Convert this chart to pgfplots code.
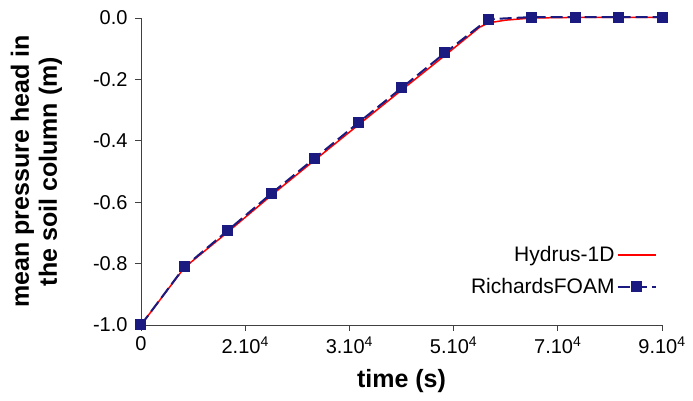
\documentclass[border=0pt]{standalone}
\usepackage{fontspec}
\setmainfont{Liberation Sans}
\usepackage{pgfplots}
\pgfplotsset{compat=1.18}
\definecolor{navy}{RGB}{26,26,128}
\begin{document}
\begin{tikzpicture}
\begin{axis}[
  name=ax,
  scale only axis,
  width=521pt, height=307pt,
  xmin=0, xmax=90000, ymin=-1, ymax=0,
  scaled x ticks=false,
  axis lines=left,
  axis line style={-, line width=0.9pt, gray!50!black},
  tick style={line width=0.9pt, gray!50!black},
  tick align=outside,
  major tick length=6pt,
  xtick={0,18000,36000,54000,72000,90000},
  xticklabels={0,2.10\textsuperscript{4},3.10\textsuperscript{4},5.10\textsuperscript{4},7.10\textsuperscript{4},9.10\textsuperscript{4}},
  ytick={-1,-0.8,-0.6,-0.4,-0.2,0},
  yticklabels={-1.0,-0.8,-0.6,-0.4,-0.2,0.0},
  tick label style={font=\fontsize{20}{24}\selectfont},
  xticklabel style={yshift=-2pt},
  yticklabel style={xshift=-4pt},
  xlabel={\textbf{time (s)}},
  ylabel={\textbf{mean pressure head in}\\\textbf{the soil column (m)}},
  xlabel style={font=\fontsize{25}{28}\selectfont, yshift=-9pt},
  ylabel style={font=\fontsize{25}{28}\selectfont, align=center, yshift=24pt},
  clip=false,
  legend plot pos=right,
  legend cell align=right,
  legend style={draw=none, fill=none, at={(0.99,0.09)}, anchor=south east, inner sep=0pt, font=\fontsize{21}{25}\selectfont, row sep=11pt},
  legend image code/.code={\draw[mark repeat=2,mark phase=2] plot coordinates {(0pt,0pt)(19pt,0pt)(38pt,0pt)};},
]
\addplot[color=red, line width=1.5pt, no marks] coordinates {
(0,-1.0)(7500,-0.813)(15000,-0.697)(22500,-0.578)(30000,-0.463)(37500,-0.349)(45000,-0.235)(52500,-0.122)(58500,-0.030)(60000,-0.016)(63000,-0.007)(67500,0.0)(75000,0.002)(82500,0.002)(90000,0.002)
};
\addlegendentry{Hydrus-1D}
\addplot[color=navy, line width=2pt, dash pattern=on 12pt off 5pt, mark=square*, mark size=4.5pt, mark options={solid}] coordinates {
(0,-1.0)(7500,-0.811)(15000,-0.692)(22500,-0.572)(30000,-0.457)(37500,-0.342)(45000,-0.228)(52500,-0.114)(60000,-0.004)(67500,0.003)(75000,0.003)(82500,0.003)(90000,0.003)
};
\addlegendentry{RichardsFOAM}
\end{axis}
\pgfresetboundingbox
\path[use as bounding box] ([shift={(-141pt,-76pt)}]ax.south west) rectangle ([shift={(31pt,18pt)}]ax.north east);
\end{tikzpicture}
\end{document}
